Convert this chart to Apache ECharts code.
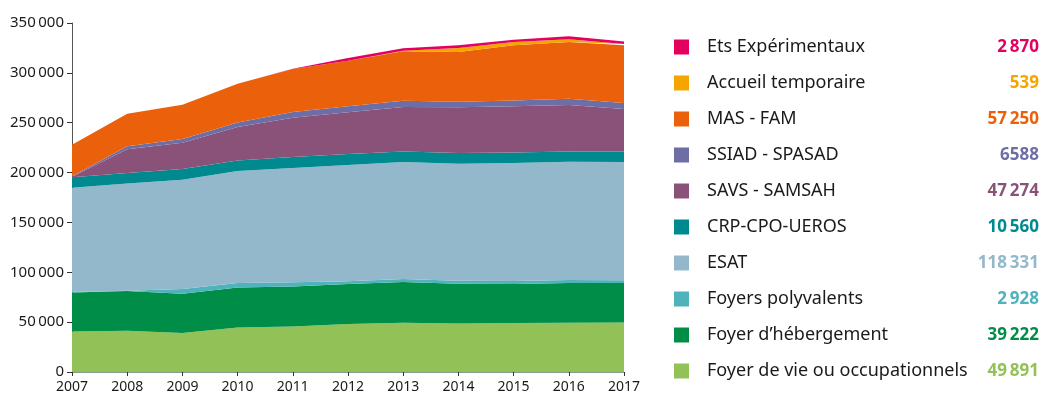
<!DOCTYPE html>
<html>
<head>
<meta charset="utf-8">
<script src="https://cdn.jsdelivr.net/npm/echarts@6/dist/echarts.min.js"></script>
<style>
  html, body { margin: 0; padding: 0; background: #fff; }
  #chart { width: 1041px; height: 400px; }
</style>
</head>
<body>
<div id="chart"></div>
<script>
// years on the x axis
var years = ['2007', '2008', '2009', '2010', '2011', '2012', '2013', '2014', '2015', '2016', '2017']

// stacked layers, bottom to top
var foyerVie = [40700, 41400, 39100, 44700, 45700, 48100, 49400, 48700, 49100, 49400, 49700]
var foyerHeb = [39100, 39800, 39400, 40100, 40100, 40100, 40900, 39900, 39200, 39900, 39600]
var foyersPoly = [400, 300, 4700, 4500, 4100, 2700, 3000, 3000, 3000, 3000, 2600]
var esat = [104600, 107500, 109600, 112300, 114700, 116700, 117300, 117300, 118300, 118600, 118700]
var crp = [10400, 10600, 10800, 10600, 11000, 11000, 10600, 10700, 10600, 10300, 10600]
var savs = [500, 23800, 26400, 33500, 39400, 41800, 44600, 45800, 46200, 46600, 42600]
var ssiad = [500, 2900, 3700, 4600, 5800, 6000, 6300, 5700, 6000, 6300, 6000]
var masFam = [31800, 32700, 34400, 38800, 43100, 45800, 49500, 49800, 55200, 56800, 57800]
var accueil = [0, 0, 0, 0, 0, 0, 500, 4000, 3300, 2700, 1300]
var etsExp = [0, 0, 0, 0, 300, 2800, 2700, 2700, 2400, 3000, 2500]

// legend figures as printed
var legendValues = {
  'Ets Expérimentaux': '2\u2009870',
  'Accueil temporaire': '539',
  'MAS - FAM': '57\u2009250',
  'SSIAD - SPASAD': '6588',
  'SAVS - SAMSAH': '47\u2009274',
  'CRP-CPO-UEROS': '10\u2009560',
  'ESAT': '118\u2009331',
  'Foyers polyvalents': '2\u2009928',
  'Foyer d\u2019hébergement': '39\u2009222',
  'Foyer de vie ou occupationnels': '49\u2009891'
}

var yTicks = [0, 50000, 100000, 150000, 200000, 250000, 300000, 350000]

var layers = [
  { name: 'Foyer de vie ou occupationnels', data: foyerVie, color: '#92c257' },
  { name: 'Foyer d\u2019hébergement', data: foyerHeb, color: '#008d47' },
  { name: 'Foyers polyvalents', data: foyersPoly, color: '#4fb3bb' },
  { name: 'ESAT', data: esat, color: '#94b8cb' },
  { name: 'CRP-CPO-UEROS', data: crp, color: '#008a8f' },
  { name: 'SAVS - SAMSAH', data: savs, color: '#8b5279' },
  { name: 'SSIAD - SPASAD', data: ssiad, color: '#6e6ea6' },
  { name: 'MAS - FAM', data: masFam, color: '#eb610b' },
  { name: 'Accueil temporaire', data: accueil, color: '#f6a500' },
  { name: 'Ets Expérimentaux', data: etsExp, color: '#e3005e' }
]

function fmt(v) {
  return String(v).replace(/\B(?=(\d{3})+(?!\d))/g, '\u2009')
}

var rich = {
  n: { width: 258, lineHeight: 15, padding: [0, 0, 0, 13], fontSize: 18, color: '#1a1a1a', fontFamily: 'Noto Sans' }
}
layers.forEach(function (l, i) {
  rich['v' + i] = { width: 74, lineHeight: 15, align: 'right', fontSize: 17, fontWeight: 'bold', color: l.color, fontFamily: 'Noto Sans' }
})

var chart = echarts.init(document.getElementById('chart'))
var option = {
  animation: false,
  textStyle: { fontFamily: 'Noto Sans' },
  grid: { left: 72, right: 417, top: 23, bottom: 28 },
  legend: {
    orient: 'vertical',
    left: 674,
    top: 38,
    padding: 0,
    itemWidth: 15,
    itemHeight: 15,
    itemGap: 18,
    icon: 'rect',
    data: layers.map(function (l) { return l.name }).reverse(),
    formatter: function (name) {
      var idx = layers.findIndex(function (l) { return l.name === name })
      return '{n|' + name + '}{v' + idx + '|' + legendValues[name] + '}'
    },
    textStyle: { lineHeight: 15, rich: rich }
  },
  xAxis: {
    type: 'category',
    data: years,
    boundaryGap: false,
    axisLine: { lineStyle: { color: '#8a9a8a', width: 1 } },
    axisTick: { show: true, length: 4, lineStyle: { color: '#333' } },
    axisLabel: { color: '#1a1a1a', fontSize: 14, margin: 8 }
  },
  yAxis: {
    type: 'value',
    min: yTicks[0],
    max: yTicks[yTicks.length - 1],
    interval: 50000,
    splitLine: { show: false },
    axisLine: { show: true, lineStyle: { color: '#555' } },
    axisTick: { show: true, length: 5, lineStyle: { color: '#333' } },
    axisLabel: { color: '#1a1a1a', fontSize: 15, margin: 8, formatter: fmt }
  },
  series: layers.map(function (l) {
    return {
      name: l.name,
      type: 'line',
      stack: 'total',
      data: l.data,
      symbol: 'none',
      color: l.color,
      lineStyle: { width: 0 },
      areaStyle: { color: l.color, opacity: 1 }
    }
  })
}
chart.setOption(option)
</script>
</body>
</html>
